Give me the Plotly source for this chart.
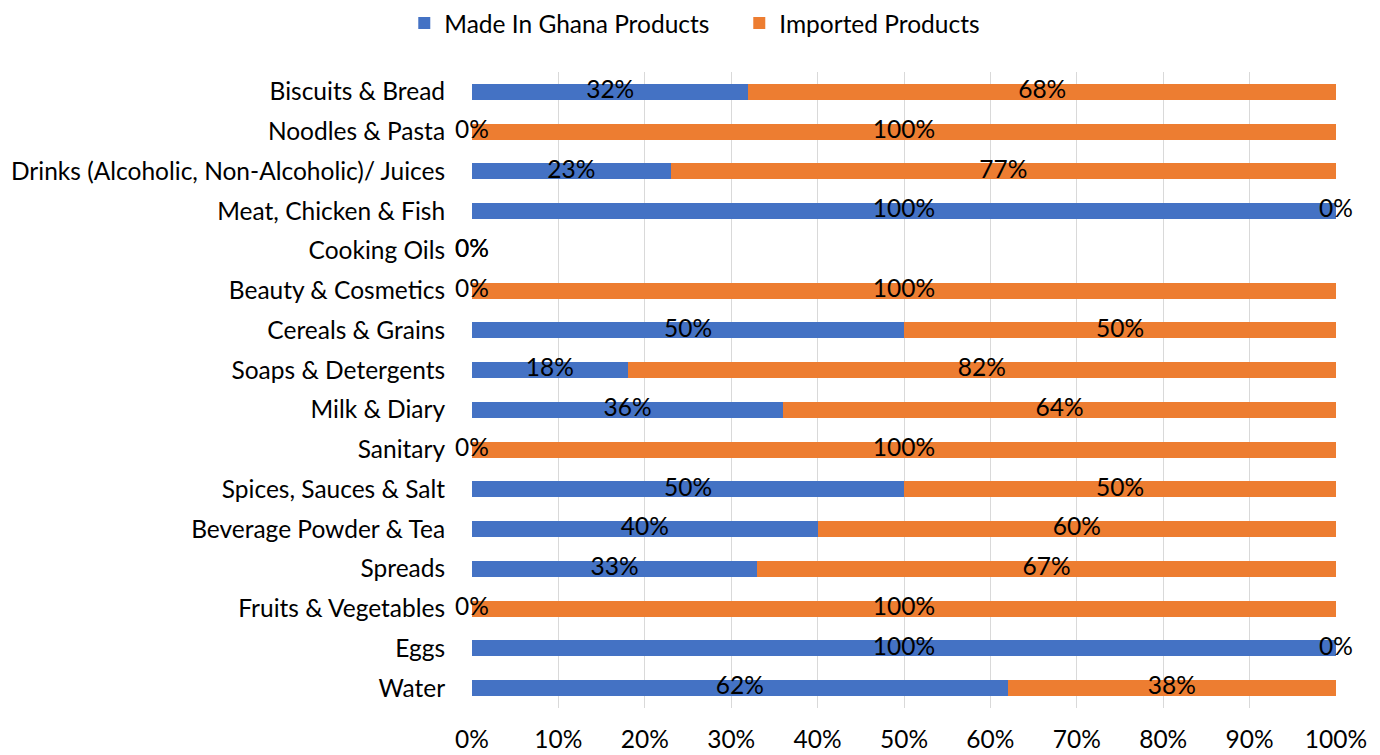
import plotly.graph_objects as go

categories = ["Biscuits & Bread", "Noodles & Pasta", "Drinks (Alcoholic, Non-Alcoholic)/ Juices",
              "Meat, Chicken & Fish", "Cooking Oils", "Beauty & Cosmetics", "Cereals & Grains",
              "Soaps & Detergents", "Milk & Diary", "Sanitary", "Spices, Sauces & Salt",
              "Beverage Powder & Tea", "Spreads", "Fruits & Vegetables", "Eggs", "Water"]
made_in_ghana = [32, 0, 23, 100, 0, 0, 50, 18, 36, 0, 50, 40, 33, 0, 100, 62]
imported = [68, 100, 77, 0, 0, 100, 50, 82, 64, 100, 50, 60, 67, 100, 0, 38]
x_ticks = [0, 10, 20, 30, 40, 50, 60, 70, 80, 90, 100]

BLUE = "#4472C4"
ORANGE = "#ED7D31"
FONT = "Lato"
FS = 24.5

fig = go.Figure()
fig.add_trace(go.Bar(y=categories, x=made_in_ghana, orientation="h", name="Made In Ghana Products",
                     marker=dict(color=BLUE, line=dict(width=0))))
fig.add_trace(go.Bar(y=categories, x=imported, orientation="h", name="Imported Products",
                     marker=dict(color=ORANGE, line=dict(width=0))))

# data labels at the centre of each segment (zero-width segments sit at their position)
lab_x, lab_y, lab_t = [], [], []
for c, a, b in zip(categories, made_in_ghana, imported):
    lab_x.append(a / 2); lab_y.append(c); lab_t.append(f"{a}%")
    lab_x.append(a + b / 2); lab_y.append(c); lab_t.append(f"{b}%")
fig.add_trace(go.Scatter(x=lab_x, y=lab_y, mode="text", text=lab_t, textposition="middle center",
                         textfont=dict(family=FONT, size=FS, color="#000000"),
                         showlegend=False, hoverinfo="skip", cliponaxis=False))

fig.update_layout(
    barmode="stack",
    bargap=0.6,
    width=1372, height=747,
    margin=dict(l=464, r=44, t=64, b=47, autoexpand=False),
    paper_bgcolor="white", plot_bgcolor="white",
    font=dict(family=FONT, size=FS, color="#000000"),
    legend=dict(orientation="h", x=0.533, xanchor="center", xref="container",
                y=1.077, yanchor="middle", yref="paper",
                font=dict(family=FONT, size=FS, color="#000000"),
                itemwidth=30, entrywidth=290, entrywidthmode="pixels", traceorder="normal"),
    showlegend=True,
)
fig.update_xaxes(range=[0, 100], tickvals=x_ticks, ticktext=[f"{v}%" for v in x_ticks],
                 showgrid=True, gridcolor="#D9D9D9", gridwidth=1, zeroline=False,
                 showline=False, ticks="outside", ticklen=10, tickcolor="rgba(0,0,0,0)",
                 fixedrange=True, automargin=False)
fig.update_yaxes(categoryorder="array", categoryarray=categories, range=[15.5, -0.5],
                 showgrid=False, zeroline=False, showline=False,
                 ticks="outside", ticklen=21, tickcolor="rgba(0,0,0,0)", automargin=False)

fig.write_html("out.html")
